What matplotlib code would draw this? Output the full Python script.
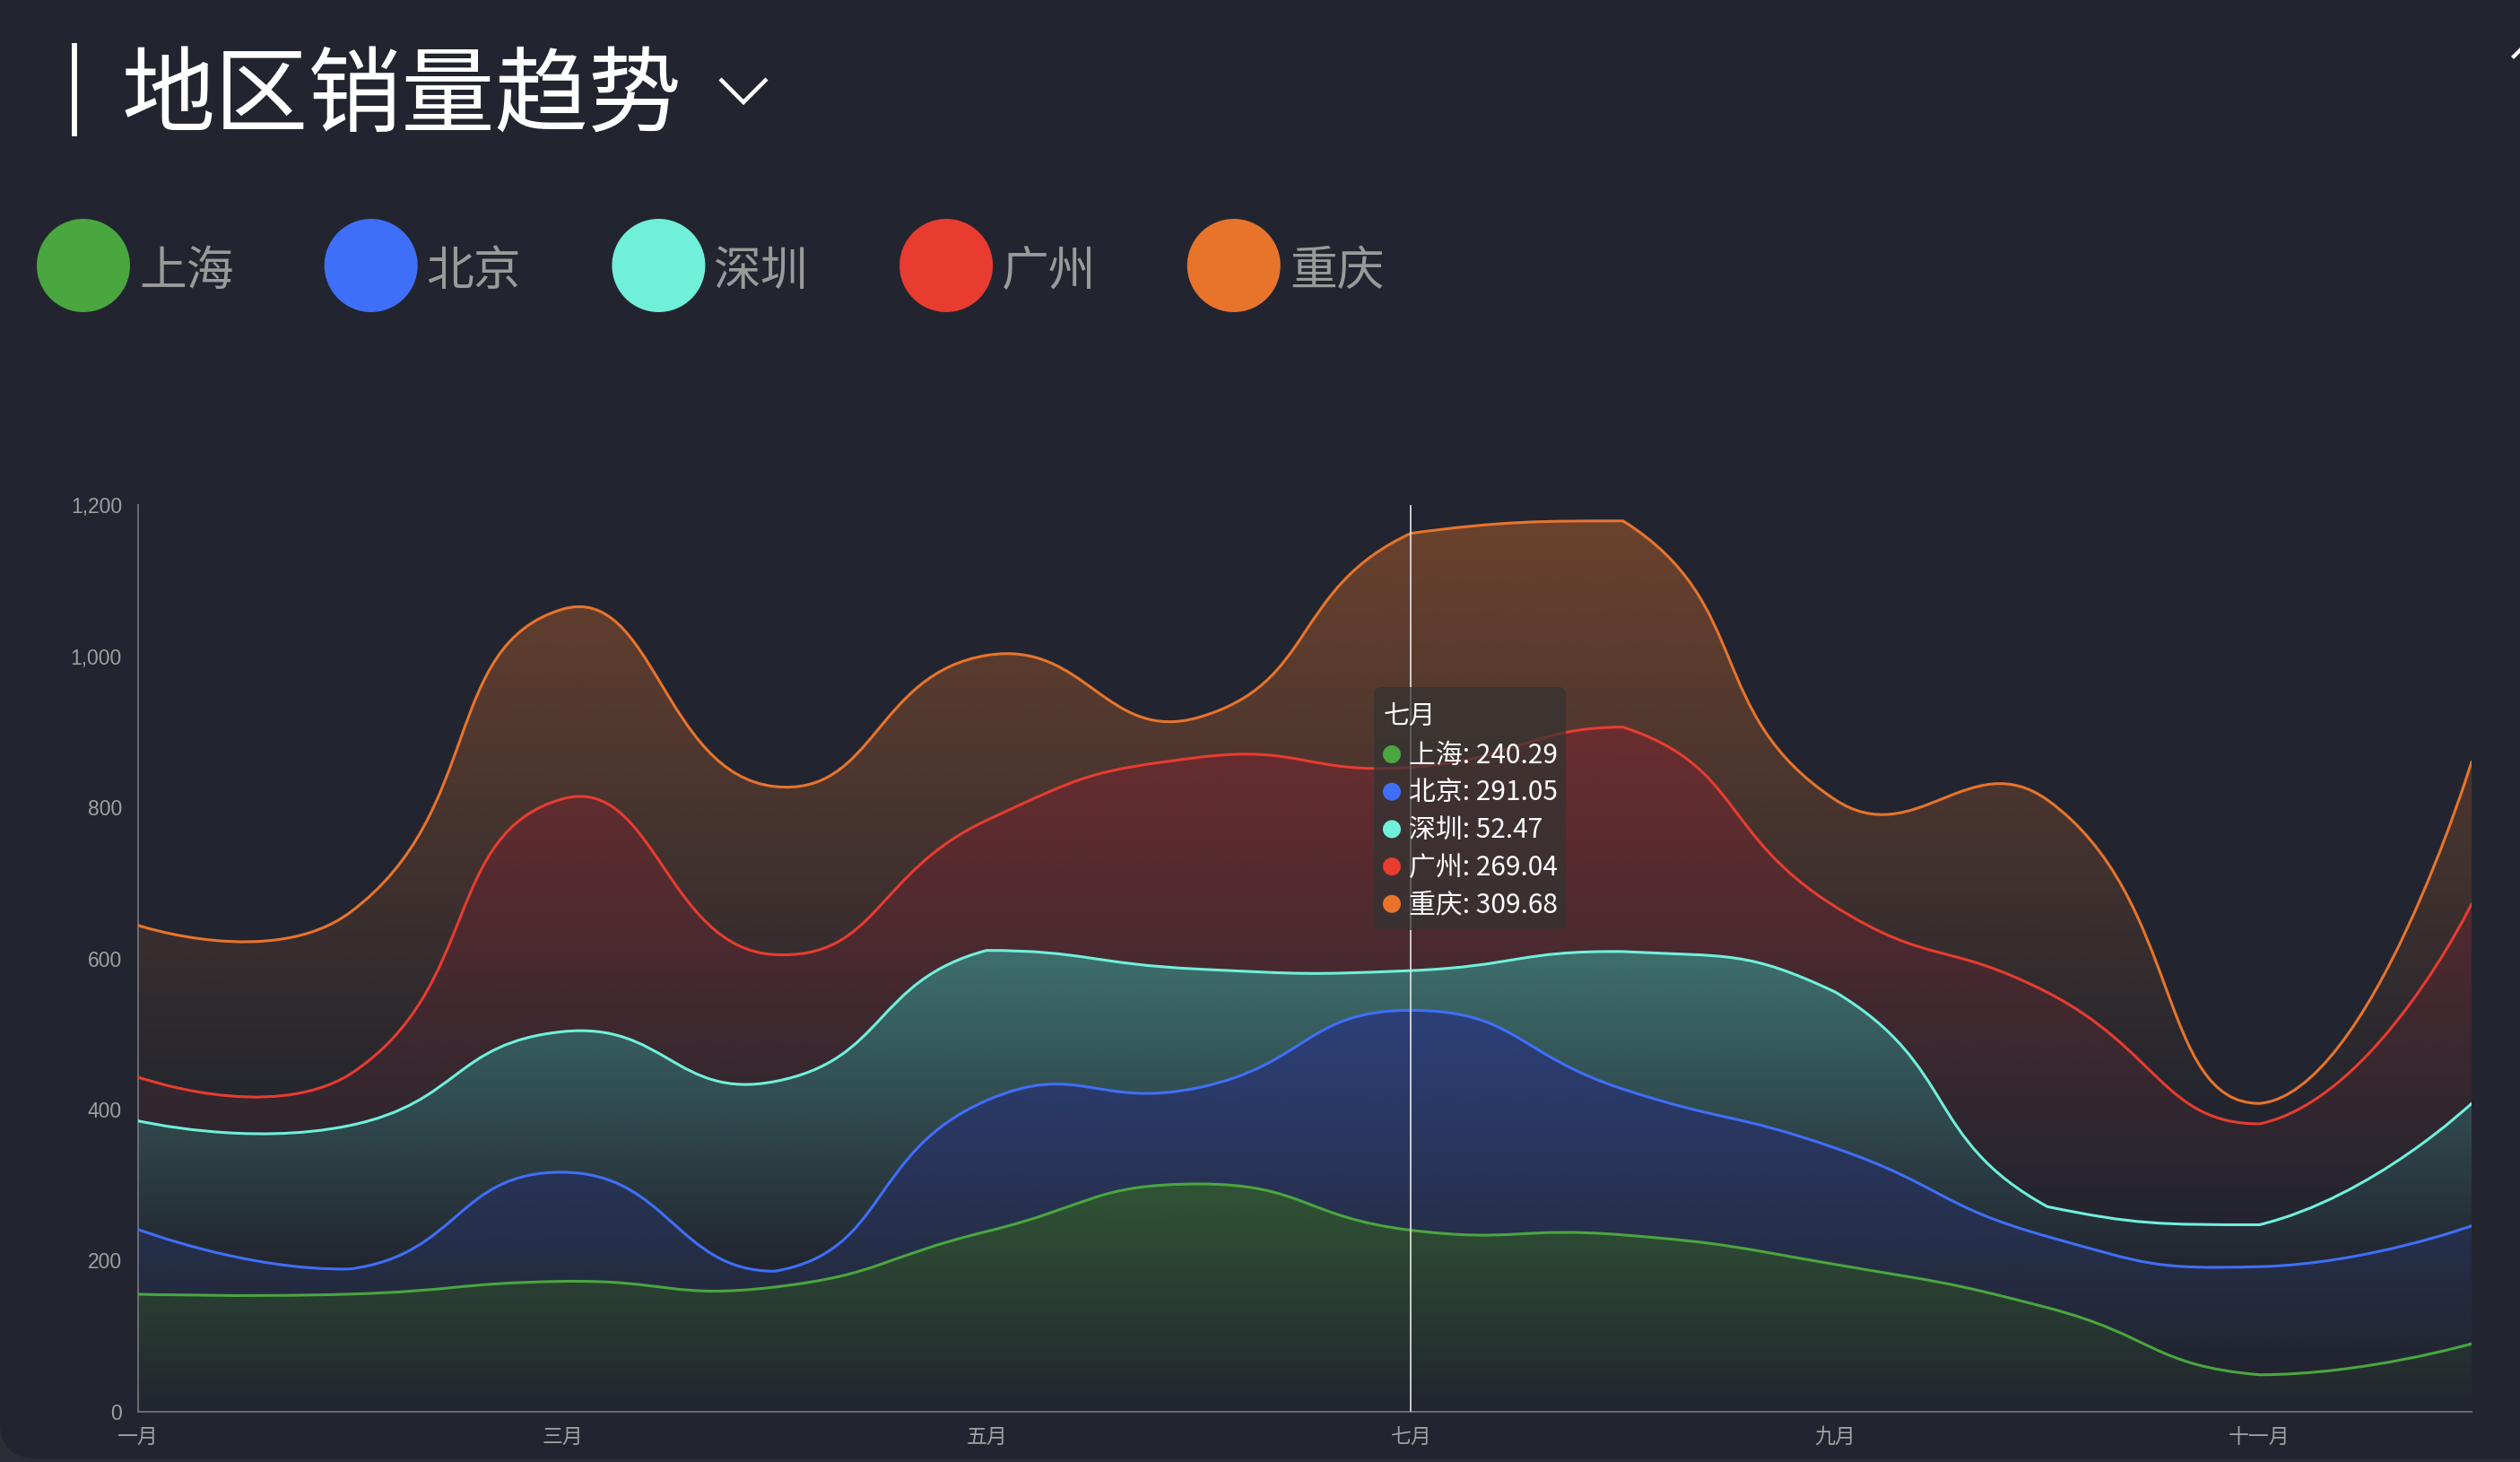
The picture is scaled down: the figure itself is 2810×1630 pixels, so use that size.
import numpy as np
import matplotlib
matplotlib.use('Agg')
import matplotlib.pyplot as plt
from matplotlib.path import Path
from matplotlib.patches import PathPatch, Circle, FancyBboxPatch

plt.rcParams['font.family'] = ['Noto Sans CJK SC', 'DejaVu Sans']

# data: monthly sales per region (stacked)
months = ['一月', '二月', '三月', '四月', '五月', '六月',
          '七月', '八月', '九月', '十月', '十一月', '十二月']
regions = ['上海', '北京', '深圳', '广州', '重庆']
shanghai = [155.6, 155.7, 172.6, 165.0, 238.6, 301.5, 240.29, 234.0, 195.0, 137.8, 49.0, 90.0]
beijing = [85.7, 33.3, 144.4, 21.0, 173.4, 127.5, 291.05, 193.0, 154.0, 94.2, 143.0, 156.0]
shenzhen = [143.7, 190.0, 186.0, 251.0, 198.5, 156.8, 52.47, 182.0, 206.5, 39.5, 55.5, 162.0]
guangzhou = [57.9, 67.8, 308.0, 168.0, 172.2, 280.2, 269.04, 297.0, 113.0, 283.5, 133.5, 264.0]
chongqing = [200.8, 214.2, 251.0, 222.5, 218.3, 53.0, 309.68, 272.9, 141.5, 254.7, 27.0, 188.0]
colors = ['#4aa63f', '#3f6ff8', '#70f0da', '#e83c30', '#e8742c']
tip_idx = 6  # tooltip month (七月)

bg = '#22252f'
W, H = 2810, 1630
fig = plt.figure(figsize=(W / 100, H / 100), dpi=100)
fig.patch.set_facecolor('#2c2e36')

# card background with rounded corner
bga = fig.add_axes([0, 0, 1, 1], zorder=-1)
bga.set_xlim(0, W); bga.set_ylim(H, 0); bga.axis('off')
bga.add_patch(FancyBboxPatch((0, -300), 3200, 300 + 1626,
                             boxstyle='round,pad=0,rounding_size=40',
                             fc=bg, ec='none'))

ax = fig.add_axes([154 / W, 1 - 1574 / H, (2756 - 154) / W, (1574 - 563) / H], zorder=1)
ax.set_facecolor('none')

# pixel scale of one month / one unit, used for echarts-like smoothing
sx = (2756 - 154) / (len(months) - 1)
sy = (1574 - 563) / 1200.0


def smooth_segs(xs, ys, smooth=0.5):
    # echarts 4 style bezier smoothing with bbox constraint
    pts = np.column_stack([np.asarray(xs, float) * sx, np.asarray(ys, float) * sy])
    lo, hi = pts.min(axis=0), pts.max(axis=0)
    n = len(pts)
    segs = []
    cp0 = pts[0].copy()
    for i in range(1, n):
        p, prev = pts[i], pts[i - 1]
        if i == n - 1:
            cp1 = p.copy()
            v = None
        else:
            nxt = pts[i + 1]
            v = nxt - prev
            d0 = np.hypot(*(p - prev))
            d1 = np.hypot(*(nxt - p))
            ratio = d1 / (d0 + d1)
            cp1 = p - v * smooth * (1 - ratio)
        segs.append([prev, np.clip(cp0, lo, hi), np.clip(cp1, lo, hi), p])
        if v is not None:
            cp0 = p + v * smooth * ratio
    scale = np.array([sx, sy])
    return [[q / scale for q in s] for s in segs]


def line_path(segs):
    verts = [segs[0][0]]
    codes = [Path.MOVETO]
    for s in segs:
        verts += [s[1], s[2], s[3]]
        codes += [Path.CURVE4] * 3
    return Path(verts, codes)


def area_path(upper, lower, n):
    verts = [upper[0][0]]
    codes = [Path.MOVETO]
    for s in upper:
        verts += [s[1], s[2], s[3]]
        codes += [Path.CURVE4] * 3
    if lower is None:
        verts += [(n - 1, 0), (0, 0)]
        codes += [Path.LINETO] * 2
    else:
        verts.append(lower[-1][3])
        codes.append(Path.LINETO)
        for s in reversed(lower):
            verts += [s[2], s[1], s[0]]
            codes += [Path.CURVE4] * 3
    verts.append(verts[0])
    codes.append(Path.CLOSEPOLY)
    return Path(verts, codes)


series = [shanghai, beijing, shenzhen, guangzhou, chongqing]
xs = np.arange(len(months))
cum = np.cumsum(np.array(series), axis=0)

prev_segs = None
all_segs = []
for k, col in enumerate(colors):
    segs = smooth_segs(xs, cum[k])
    all_segs.append(segs)
    apath = area_path(segs, prev_segs, len(months))
    patch = PathPatch(apath, fc='none', ec='none')
    ax.add_patch(patch)
    ext = apath.get_extents()
    rgb = matplotlib.colors.to_rgb(col)
    grad = np.zeros((256, 1, 4))
    grad[:, 0, :3] = rgb
    grad[:, 0, 3] = np.linspace(0.37, 0.0, 256)
    im = ax.imshow(grad, extent=[0, len(months) - 1, ext.y0, ext.y1],
                   origin='upper', aspect='auto', interpolation='bilinear', zorder=1)
    im.set_clip_path(patch)
    prev_segs = segs

for k, col in enumerate(colors):
    ax.add_patch(PathPatch(line_path(all_segs[k]), fc='none', ec=col, lw=2.2, zorder=3,
                           capstyle='round', joinstyle='round'))

ax.set_xlim(0, len(months) - 1)
ax.set_ylim(0, 1200)

# axes styling
for s in ['top', 'right']:
    ax.spines[s].set_visible(False)
for s in ['left', 'bottom']:
    ax.spines[s].set_color('#6a6c72')
    ax.spines[s].set_linewidth(1.4)
ax.set_xticks(xs[::2], labels=months[::2])
yt = np.arange(0, 1201, 200)
ax.set_yticks(yt, labels=[f'{v:,}' for v in yt], fontfamily='Liberation Sans')
ax.tick_params(axis='both', length=0, colors='#a0a0a0', labelsize=16.5)
ax.tick_params(axis='x', pad=12)
ax.tick_params(axis='y', pad=13)

# tooltip axis pointer
ax.axvline(tip_idx, color='#d8d8d8', lw=1.3, zorder=4)

# overlay in figure pixels
ov = fig.add_axes([0, 0, 1, 1], zorder=5)
ov.set_xlim(0, W); ov.set_ylim(H, 0); ov.axis('off')
ov.patch.set_alpha(0)

# title
ov.plot([83, 83], [48, 152], color='white', lw=4.2, solid_capstyle='butt')
ov.text(136, 109, '地区销量趋势', fontsize=75, color='white', va='center', ha='left')
ov.plot([803, 829, 855], [88, 114, 88], color='white', lw=3.2,
        solid_joinstyle='miter', solid_capstyle='butt')
ov.plot([2803, 2813], [63, 53], color='white', lw=3)

# legend
for k, (name, col) in enumerate(zip(regions, colors)):
    cx = 93 + k * 320.7
    ov.add_patch(Circle((cx, 296), 52, fc=col, ec='none'))
    ov.text(cx + 62, 302, name, fontsize=38, color='#9a9a9a', va='center', ha='left')

# tooltip
ov.add_patch(FancyBboxPatch((1532, 766), 214, 271, boxstyle='round,pad=0,rounding_size=8',
                            fc=(0.2, 0.2, 0.2, 0.72), ec='none'))
ov.text(1543, 799, months[tip_idx], fontsize=21, color='white', va='center', ha='left')
for k, (name, col) in enumerate(zip(regions, colors)):
    yy = 841 + k * 41.7
    ov.add_patch(Circle((1552, yy), 10, fc=col, ec='none'))
    ov.text(1571, yy + 1, f'{name}: {series[k][tip_idx]:.2f}', fontsize=21.5,
            color='white', va='center', ha='left')

fig.savefig('out.png', dpi=100, facecolor=fig.get_facecolor())
